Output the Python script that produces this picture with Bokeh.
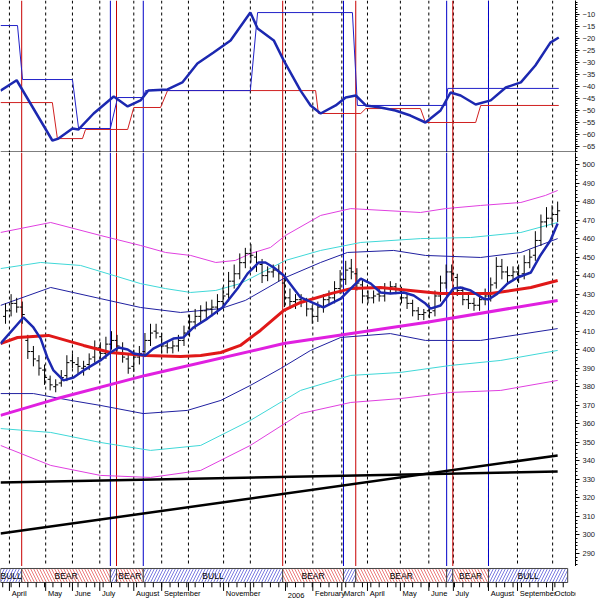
import numpy as np
from bokeh.plotting import figure
from bokeh.layouts import column
from bokeh.models import Range1d, FixedTicker, Span, ColumnDataSource
from bokeh.embed import file_html
from bokeh.resources import INLINE
from bokeh.core.properties import value

# ---------------- data ----------------
bar_open = [418,421,425,423,405,399,394,389,384,380,
            382,386,394,392,390,392,396,401,398,403,
            405,401,395,391,396,399,405,410,407,402,
            401,402,405,410,415,418,421,422,423,426,
            430,437,441,447,452,450,446,440,442,443,
            436,428,426,427,426,422,418,423,427,428,
            433,438,444,441,435,429,428,430,429,433,
            434,432,428,425,421,419,421,421,429,436,
            442,439,432,427,425,424,427,429,436,445,
            442,440,442,441,447,451,459,469,471,473]
bar_high = [425,430,428,426,408,402,397,392,386,384,
            389,397,398,396,394,398,405,404,407,410,
            408,404,398,400,402,409,414,414,409,404,
            405,408,413,419,422,424,426,427,430,434,
            442,446,452,455,457,453,449,445,446,446,
            439,433,430,430,428,424,426,430,432,437,
            443,448,449,444,438,432,432,433,436,437,
            436,434,430,427,423,422,424,432,440,446,
            446,441,434,430,428,430,433,439,450,449,
            445,445,446,451,454,464,473,477,478,480]
bar_low = [414,418,420,414,395,391,386,381,378,377,
           380,383,390,387,386,389,393,395,395,400,
           399,393,387,388,392,396,402,406,398,398,
           398,399,402,407,411,414,417,418,419,422,
           426,433,438,444,447,442,436,437,439,437,
           423,422,422,423,418,414,415,420,424,425,
           430,435,438,432,425,425,425,426,426,430,
           430,425,422,418,416,416,417,418,426,433,
           437,429,424,422,421,421,424,426,433,438,
           436,437,436,438,444,448,456,466,467,469]
bar_close = [421,425,423,419,399,395,390,385,381,381,
             385,393,393,391,391,395,401,398,403,405,
             402,396,390,396,398,405,409,409,402,401,
             402,405,409,415,418,421,422,423,426,429,
             437,441,447,452,451,447,440,442,443,441,
             428,426,427,426,422,418,423,427,428,433,
             438,443,442,436,429,428,429,429,433,434,
             433,428,425,421,419,420,420,429,436,442,
             441,432,427,425,424,427,429,435,445,442,
             440,442,440,447,450,459,469,471,473,475]

# moving averages / trend (x = bar index)
ma_fast_x = [-0.9,3.2,5.0,6.3,7.5,8.6,10.4,12.2,14.0,17.0,18.8,20.3,21.9,23.0,25.1,26.5,30.1,31.9,33.7,36.2,
             38.9,41.6,43.4,45.4,46.6,48.1,49.9,52.9,57.0,60.1,63.7,65.5,67.25,69.0,71.4,73.2,75.3,76.2,78.0,
             80.3,81.6,83.4,85.7,86.6,88.2,90.0,91.8,94.2,95.9,97.7,99.0]
ma_fast_y = [403.3,417.4,412.0,406.0,395.8,388.8,383.4,385.0,388.8,394.2,398.5,401.2,400.1,397.9,396.9,400.6,406.0,406.6,412.0,416.8,
             422.8,433.0,441.1,447.1,447.1,444.4,440.1,428.2,422.8,427.6,438.4,435.7,430.9,430.3,430.9,429.3,424.9,422.2,423.9,
             433.0,433.6,432.0,427.6,427.1,430.3,435.7,439.0,441.7,450.9,459.0,468.1]
ma_mid_x = [-0.9,2.15,7.7,14.0,18.8,25.1,31.4,35.0,38.6,42.1,45.7,49.9,52.9,58.3,61.9,67.25,72.6,78.0,87.0,94.2,99.0]
ma_mid_y = [403.3,406.6,407.7,402.3,398.5,396.9,396.3,396.9,398.5,402.3,410.4,421.2,425.5,430.3,433.0,433.6,432.0,430.3,430.3,433.6,437.4]
ma_slow_x = [-0.9,9.3,25.1,49.9,75.3,99.0]
ma_slow_y = [364.5,373.6,386.1,403.3,414.7,426.6]

env_x = [-0.9,8.1,17.0,26.0,35.0,43.9,52.9,61.9,70.8,79.8,88.8,99.0]
env3_up_x = [-0.9,8.1,17.0,24.2,28.7,33.2,37.7,41.2,43.9,47.5,50.2,56.5,61.9,74.4,78.9,85.2,92.4,96.8,99.0]
env3_up_y = [463.3,468.7,461.7,456.3,452.5,450.9,447.1,448.2,451.9,455.2,461.7,472.5,476.2,474.1,476.2,477.9,479.5,483.3,486.0]
env2_up_x = [-0.9,6.3,13.45,24.2,28.7,33.2,37.7,42.1,50.2,56.5,63.7,74.4,83.4,92.4,99.0]
env2_up_y = [443.8,447.1,445.5,435.7,433.0,430.9,432.0,435.7,448.2,453.6,457.9,460.0,460.6,463.3,468.7]
env1_up_x = [-0.9,8.1,17.0,24.2,31.4,38.6,43.0,50.2,56.5,61.3,69.6,75.3,85.2,92.4,99.0]
env1_up_y = [423.9,433.6,427.6,422.8,420.1,422.2,426.6,439.0,447.1,452.5,453.6,450.9,449.8,452.5,460.0]
env1_dn_x = [-0.9,5.0,11.7,17.0,24.7,32.6,38.6,43.9,49.3,54.7,60.1,69.0,75.3,85.2,99.0]
env1_dn_y = [376.3,376.3,372.6,369.9,365.5,367.2,372.6,380.7,389.8,399.6,406.6,408.7,405.0,405.0,411.4]
env2_dn_y = [357.4,355.3,349.9,345.6,348.3,361.8,378.0,386.1,387.7,391.5,394.2,399.6]
env3_dn_y = [348.3,337.5,332.1,331.0,334.8,348.3,365.5,371.5,373.6,376.9,378.0,383.4]

line_a_x = [-0.9, 99.0]
line_a_y = [328.3, 334.2]
line_b_x = [-0.9, 99.0]
line_b_y = [300.7, 342.9]

# oscillator panel
osc_x = [-0.9,2.0,8.4,9.5,12.0,13.1,15.8,19.4,21.9,24.2,25.6,29.05,31.7,34.4,37.3,40.35,43.9,45.2,48.1,49.9,
         52.9,54.7,56.5,59.2,61.0,62.8,64.6,67.25,69.9,72.6,75.3,78.0,79.8,81.6,84.3,87.0,89.7,92.4,95.0,97.7,99.2]
osc_y = [-41.7,-37.4,-62.5,-61.7,-57.5,-57.9,-51.25,-44.2,-48.3,-45.8,-41.7,-41.25,-38.3,-30.4,-25.8,-20.8,-9.2,-15.8,-20.8,-29.2,
         -41.7,-47.9,-51.25,-47.9,-44.6,-43.75,-47.9,-48.75,-50.0,-52.1,-55.0,-50.0,-42.5,-43.75,-47.5,-45.8,-40.4,-38.3,-31.25,-21.7,-19.6]
stop_blue_x = [-0.9,2.15,3.05,12.0,13.1,18.8,20.1,24.7,25.1,43.9,45.2,62.2,63.1,78.9,79.3,99.2]
stop_blue_y = [-14.6,-14.6,-37.1,-37.1,-57.5,-57.5,-44.6,-44.6,-41.7,-41.7,-9.2,-9.2,-47.9,-47.9,-40.8,-40.8]
stop_red_x = [-0.9,8.4,9.3,13.8,14.35,21.9,23.0,27.8,29.05,55.6,56.1,63.7,64.6,74.4,75.3,84.3,85.2,99.2]
stop_red_y = [-46.7,-46.7,-61.7,-61.7,-57.9,-57.9,-48.75,-48.75,-41.7,-41.7,-51.25,-51.25,-49.2,-49.2,-55.0,-55.0,-47.9,-47.9]

# time axis
month_pos = [0.7,7.2,12.0,16.9,23.0,28.0,32.8,39.1,43.9,50.2,55.1,60.3,64.9,70.8,75.9,80.3,86.6,91.8,98.1]
month_labels = ["April","May","June","July","August","September","","November","","2006","February",
                "March","April","May","June","July","August","September","October"]

# regimes
regime_edges = [-0.9,2.9,18.8,19.9,24.7,49.7,60.6,62.8,79.1,80.2,86.6,100.8]
regime_names = ["BULL","BEAR","BULL","BEAR","BULL","BEAR","BULL","BEAR","BULL","BEAR","BULL"]

top_ticks = [-10,-15,-20,-25,-30,-35,-40,-45,-50,-55,-60,-65]
main_ticks = [500,490,480,470,460,450,440,430,420,410,400,390,380,370,360,350,340,330,320,310,300,290]

# ---------------- styling ----------------
W = 600
RB = 25
X_RANGE = Range1d(-0.9, 102.2)
RED = "#c80000"
BLUE = "#0000c8"
FONT = "Liberation Sans"

def base_fig(h, yr, right_axis=True):
    p = figure(width=W, height=h, x_range=X_RANGE, y_range=yr,
               output_backend="svg", toolbar_location=None,
               x_axis_location=None, y_axis_location="right" if right_axis else None,
               min_border_left=0, min_border_right=RB, min_border_top=0, min_border_bottom=0)
    p.grid.visible = False
    p.outline_line_color = None
    p.background_fill_color = "white"
    p.border_fill_color = "white"
    return p

def style_axis(ax, ticks, minor):
    ax.ticker = FixedTicker(ticks=ticks, minor_ticks=minor)
    ax.axis_line_color = "black"
    ax.major_tick_out = 4
    ax.major_tick_in = 0
    ax.minor_tick_out = 2
    ax.minor_tick_in = 0
    ax.major_label_text_font_size = "7.5px"
    ax.major_label_text_font = FONT
    ax.major_label_text_color = "#222222"
    ax.major_label_standoff = 3

def add_verticals(p):
    for m in month_pos:
        p.add_layout(Span(location=m, dimension="height", line_color="black",
                          line_dash="3 3", line_width=1, level="underlay"))
    for k in range(1, len(regime_names)):
        col = RED if regime_names[k] == "BEAR" else BLUE
        p.add_layout(Span(location=regime_edges[k], dimension="height", line_color=col,
                          line_width=1, level="underlay"))

# ---- top oscillator panel ----
top = base_fig(152, Range1d(-67.5, -4.17))
style_axis(top.yaxis[0], top_ticks, list(range(-67, -4)))
add_verticals(top)
top.line(stop_red_x, stop_red_y, line_color="#d02020", line_width=1)
top.line(stop_blue_x, stop_blue_y, line_color="#2020c8", line_width=1)
top.line(osc_x, osc_y, line_color="#1c28b0", line_width=2.5)
top.add_layout(Span(location=-67.3, dimension="width", line_color="black", line_width=1.2))

# ---- main price panel ----
main = base_fig(414, Range1d(282.9, 506.5))
style_axis(main.yaxis[0], main_ticks, list(range(284, 506, 2)))
add_verticals(main)

main.line(env3_up_x, env3_up_y, line_color="#e040e0", line_width=1)
main.line(env2_up_x, env2_up_y, line_color="#40d8d8", line_width=1)
main.line(env1_up_x, env1_up_y, line_color="#2020a0", line_width=1)
main.line(env1_dn_x, env1_dn_y, line_color="#2020a0", line_width=1)
main.line(env_x, env2_dn_y, line_color="#40d8d8", line_width=1)
main.line(env_x, env3_dn_y, line_color="#e040e0", line_width=1)
main.line(line_a_x, line_a_y, line_color="black", line_width=2.5)
main.line(line_b_x, line_b_y, line_color="black", line_width=2.5)

idx = np.arange(len(bar_close))
ohlc = ColumnDataSource(dict(i=idx, il=idx - 0.45, ir=idx + 0.45,
                             o=bar_open, h=bar_high, l=bar_low, c=bar_close))
main.segment("i", "l", "i", "h", source=ohlc, line_color="black", line_width=1)
main.segment("il", "o", "i", "o", source=ohlc, line_color="black", line_width=1)
main.segment("i", "c", "ir", "c", source=ohlc, line_color="black", line_width=1)

main.line(ma_slow_x, ma_slow_y, line_color="#e020e0", line_width=3)
main.line(ma_mid_x, ma_mid_y, line_color="#e01818", line_width=3)
main.line(ma_fast_x, ma_fast_y, line_color="#1c28b0", line_width=2.5)

# ---- regime band + time axis ----
band = base_fig(33, Range1d(0, 1), right_axis=False)
lefts = regime_edges[:-1]
rights = regime_edges[1:]
bsrc = ColumnDataSource(dict(
    left=lefts, right=rights,
    hatch=["/" if n == "BULL" else "\\" for n in regime_names],
    hcol=["#3030d0" if n == "BULL" else "#e03030" for n in regime_names],
))
band.quad(left="left", right="right", bottom=0.515, top=0.94, source=bsrc,
          fill_color="white", line_color="#444444", line_width=1,
          hatch_pattern="hatch", hatch_color="hcol", hatch_scale=6, hatch_weight=0.8,
          hatch_alpha=0.8)
lab_x, lab_t = [], []
for a, b, n in zip(lefts, rights, regime_names):
    if b - a > 3:
        lab_x.append((a + b) / 2)
        lab_t.append(n)
band.text(lab_x, [0.72] * len(lab_x), text=lab_t, text_font=value(FONT),
          text_font_size="8.5px", text_align="center", text_baseline="middle", text_color="black")

# time-axis ticks
minor_pos = [m for m in np.arange(-0.5, 100.8, 1.5)]
band.segment(minor_pos, [0.515] * len(minor_pos), minor_pos, [0.37] * len(minor_pos),
             line_color="black", line_width=1)
band.segment(month_pos, [0.515] * len(month_pos), month_pos, [0.26] * len(month_pos),
             line_color="black", line_width=1)
band.text([m + 0.4 for m in month_pos], [0.04] * len(month_pos), text=month_labels,
          text_font=value(FONT), text_font_size="7.5px", text_align="left",
          text_baseline="bottom", text_color="black")

layout = column(top, main, band, spacing=0)
open("out.html", "w").write(file_html(layout, INLINE))
